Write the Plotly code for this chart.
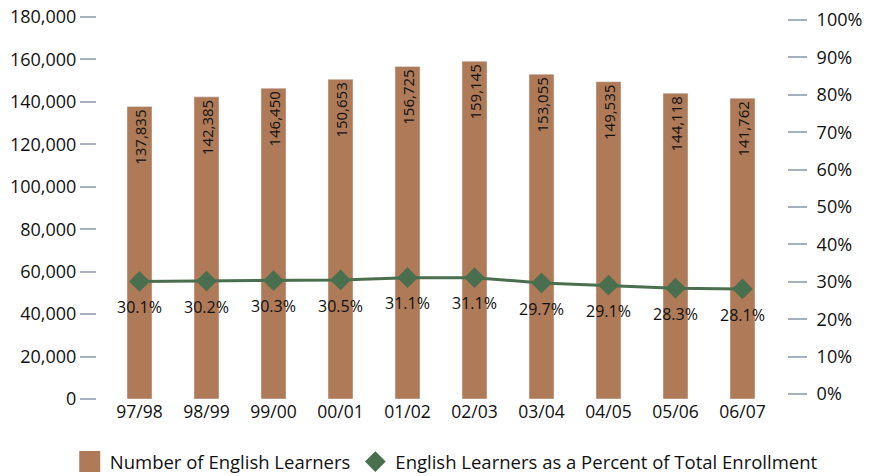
import plotly.graph_objects as go

years = ["97/98", "98/99", "99/00", "00/01", "01/02", "02/03", "03/04", "04/05", "05/06", "06/07"]
learners = [137835, 142385, 146450, 150653, 156725, 159145, 153055, 149535, 144118, 141762]
percent = [30.1, 30.2, 30.3, 30.5, 31.1, 31.1, 29.7, 29.1, 28.3, 28.1]
left_ticks = [0, 20000, 40000, 60000, 80000, 100000, 120000, 140000, 160000, 180000]
right_ticks = [0, 10, 20, 30, 40, 50, 60, 70, 80, 90, 100]

BROWN = "#ae7a57"
GREEN = "#4a6f4f"
TICK = "#a7b0bf"
FONT = "Open Sans"

fig = go.Figure()
fig.add_trace(go.Bar(
    x=years, y=learners, marker_color=BROWN, showlegend=False,
    text=[f"{v:,}" for v in learners], textposition="inside",
    insidetextanchor="end", textangle=-90, constraintext="none",
    textfont=dict(family=FONT, size=15, color="#111111"),
    yaxis="y", hoverinfo="skip",
))
fig.add_trace(go.Scatter(
    x=years, y=percent, mode="lines+markers", showlegend=False,
    line=dict(color=GREEN, width=3),
    marker=dict(symbol="diamond", size=16, color=GREEN),
    yaxis="y2",
))
# percent labels (invisible larger markers give the label offset below the diamonds)
fig.add_trace(go.Scatter(
    x=years, y=percent, mode="markers+text", showlegend=False,
    marker=dict(size=30, opacity=0),
    text=[f"{v}%" for v in percent], textposition="bottom center",
    textfont=dict(family=FONT, size=16, color="#111111"),
    yaxis="y2", hoverinfo="skip",
))
# legend entries
fig.add_trace(go.Scatter(x=[None], y=[None], mode="markers", name="Number of English Learners",
                         marker=dict(symbol="square", size=16, color=BROWN,
                                     line=dict(color=BROWN, width=5)), yaxis="y"))
fig.add_trace(go.Scatter(x=[None], y=[None], mode="markers", name="English Learners as a Percent of Total Enrollment",
                         marker=dict(symbol="diamond", size=16, color=GREEN), yaxis="y"))

fig.update_layout(
    width=875, height=476,
    margin=dict(l=96, r=88, t=17, b=77, autoexpand=False),
    paper_bgcolor="white", plot_bgcolor="white",
    font=dict(family=FONT, size=17, color="#111111"),
    bargap=0.627,
    xaxis=dict(domain=[10 / 691, 680 / 691], range=[-0.5, 9.5], showgrid=False, showline=False,
               ticks="", tickfont=dict(size=17.5), automargin=False),
    yaxis=dict(range=[0, 180000], tickvals=left_ticks, tickformat=",d", showgrid=False,
               zeroline=False, showline=False, ticks="outside", ticklen=16, tickwidth=1.5,
               tickcolor=TICK, anchor="free", position=0, tickfont=dict(size=18), automargin=False),
    yaxis2=dict(range=[-5 / 3.74, 100 + 3 / 3.74], tickmode="array", tickvals=right_ticks,
                ticktext=[f"{v}%" for v in right_ticks],
                overlaying="y", side="right", showgrid=False, zeroline=False, showline=False,
                ticks="outside", ticklen=19, tickwidth=1.5, tickcolor=TICK,
                anchor="free", position=1, tickfont=dict(size=18), ticklabelstandoff=6,
                automargin=False),
    legend=dict(orientation="h", x=-0.038, xanchor="left", y=-0.165, yanchor="middle",
                font=dict(size=18.5), itemsizing="trace", bgcolor="rgba(0,0,0,0)"),
    showlegend=True,
)

fig.write_html("out.html", config={"displayModeBar": False},
               post_script="document.body.style.margin='0';")
